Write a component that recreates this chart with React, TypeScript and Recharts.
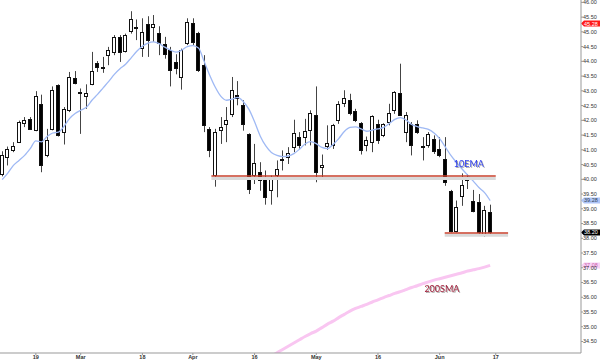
import { ComposedChart, Bar, Line, XAxis, YAxis, ReferenceLine, ReferenceDot } from 'recharts';

// daily candles, Feb 8 .. Jun 14 (index 0..87)
const opens = [
  40.19, 40.74, 41.0, 41.26, 41.92, 42.05, 41.66, 42.56, 40.84, 41.71,
  43.19, 41.6, 42.36, 43.43, 42.95, 42.84, 43.24, 43.93, 43.76, 44.21,
  44.32, 44.83, 44.35, 45.03, 45.17, 44.44, 45.25, 45.15, 44.97, 44.6,
  44.38, 43.97, 43.47, 44.63, 45.31, 44.95, 43.87, 41.69, 40.13, 41.68,
  41.88, 42.2, 42.87, 42.53, 41.54, 40.13, 40.24, 40.07, 39.64, 40.13,
  40.64, 40.77, 41.11, 41.45, 41.45, 41.66, 42.17, 40.41, 41.14, 41.15,
  42.0, 42.58, 42.7, 42.31, 41.9, 41.15, 41.26, 41.88, 41.49, 41.94,
  42.34, 42.94, 41.6, 41.88, 41.86, 41.12, 41.18, 41.35, 41.03, 40.69,
  39.59, 38.23, 39.45, 39.96, 39.28, 39.22, 38.14, 38.88,
];
const highs = [
  40.95, 41.11, 41.26, 41.99, 42.11, 42.11, 42.99, 42.87, 41.71, 43.15,
  43.22, 42.45, 43.64, 43.67, 43.08, 43.22, 44.32, 44.01, 44.15, 44.49,
  44.89, 44.89, 44.94, 45.7, 45.42, 45.46, 45.53, 45.57, 45.19, 44.83,
  44.49, 44.24, 44.43, 45.46, 45.46, 45.0, 44.21, 41.77, 41.71, 42.11,
  42.45, 43.47, 43.33, 42.68, 41.56, 41.2, 40.58, 40.3, 40.13, 40.64,
  40.98, 41.09, 42.02, 41.6, 42.05, 42.34, 43.15, 40.84, 41.83, 41.88,
  42.65, 43.02, 42.9, 42.39, 41.94, 41.45, 42.17, 42.02, 41.9, 42.56,
  42.99, 43.92, 42.28, 41.94, 42.0, 41.43, 41.6, 41.49, 41.43, 41.43,
  39.64, 39.28, 40.2, 40.18, 39.64, 39.5, 39.1, 39.14,
];
const lows = [
  40.1, 40.47, 40.92, 41.23, 41.77, 41.68, 41.63, 40.24, 40.75, 41.66,
  41.45, 41.18, 42.28, 43.22, 41.54, 42.39, 43.19, 43.64, 43.61, 43.87,
  44.21, 43.98, 44.3, 44.94, 44.72, 44.15, 44.15, 44.66, 44.21, 44.09,
  43.15, 43.56, 43.04, 44.55, 44.55, 43.64, 41.6, 40.75, 39.75, 41.2,
  41.26, 42.11, 42.51, 41.65, 39.5, 39.84, 39.61, 39.14, 39.14, 39.39,
  40.3, 40.52, 40.92, 41.03, 41.15, 41.15, 39.9, 40.05, 41.0, 41.03,
  41.88, 42.45, 42.17, 41.94, 40.84, 40.95, 40.92, 41.2, 41.43, 41.83,
  42.22, 42.15, 41.26, 40.81, 41.54, 40.64, 41.07, 40.86, 40.75, 39.78,
  38.2, 38.2, 39.1, 39.67, 38.88, 38.08, 38.05, 38.08,
];
const closes = [
  40.81, 41.04, 41.12, 41.96, 42.02, 41.71, 42.81, 40.5, 41.32, 43.02,
  41.49, 42.39, 43.47, 43.27, 42.92, 42.93, 43.66, 43.81, 43.8, 44.4,
  44.83, 44.32, 44.89, 45.42, 45.12, 45.0, 44.74, 45.25, 44.63, 44.26,
  43.72, 43.79, 44.38, 45.34, 44.64, 43.72, 41.83, 40.98, 41.6, 41.77,
  42.0, 43.04, 42.76, 41.88, 39.67, 40.54, 39.96, 39.39, 40.01, 40.35,
  40.68, 40.88, 41.57, 41.18, 41.63, 42.24, 40.24, 40.5, 41.24, 41.83,
  42.56, 42.77, 42.24, 42.0, 41.0, 41.32, 42.13, 41.32, 41.86, 42.24,
  42.96, 42.17, 42.19, 41.15, 41.6, 41.1, 41.52, 40.95, 40.81, 39.9,
  38.23, 39.07, 39.82, 40.0, 38.91, 38.2, 38.96, 38.2,
];
const ema10 = [
  39.99, 40.21, 40.47, 40.64, 40.81, 41.04, 41.3, 41.27, 41.45, 41.57,
  41.6, 41.79, 42.06, 42.23, 42.34, 42.44, 42.68, 42.88, 43.1, 43.32,
  43.56, 43.75, 43.9, 44.12, 44.34, 44.51, 44.62, 44.66, 44.6, 44.48,
  44.38, 44.31, 44.38, 44.5, 44.53, 44.45, 44.0, 43.53, 43.12, 42.81,
  42.68, 42.72, 42.78, 42.63, 42.37, 41.95, 41.47, 41.13, 40.91, 40.81,
  40.77, 40.79, 40.87, 41.02, 41.2, 41.28, 41.21, 41.08, 41.04, 41.18,
  41.38, 41.62, 41.76, 41.78, 41.71, 41.63, 41.67, 41.71, 41.76, 41.89,
  42.03, 42.09, 42.01, 41.86, 41.79, 41.74, 41.69, 41.57, 41.38, 41.1,
  40.81, 40.57, 40.35, 40.14, 39.94, 39.72, 39.55, 39.28,
];
const sma200 = [
  null, null, null, null, null, null, null, null, null, null,
  null, null, null, null, null, null, null, null, null, null,
  null, null, null, null, null, null, null, null, null, null,
  null, null, null, null, null, null, null, null, null, null,
  null, null, null, null, null, null, null, 33.88, 34.0, 34.12,
  34.23, 34.34, 34.45, 34.56, 34.67, 34.77, 34.85, 34.97, 35.09, 35.19,
  35.31, 35.42, 35.53, 35.62, 35.69, 35.76, 35.84, 35.91, 35.99, 36.06,
  36.13, 36.19, 36.26, 36.33, 36.39, 36.46, 36.52, 36.58, 36.63, 36.68,
  36.73, 36.78, 36.83, 36.89, 36.93, 36.97, 37.02, 37.08,
];

const tickIdx = [6, 14, 25, 34, 45, 56, 67, 78, 88];
const tickLabels = ['19', 'Mar', '18', 'Apr', '16', 'May', '16', 'Jun', '17'];
const yTicks = [34.5, 35, 35.5, 36, 36.5, 37, 37.5, 38, 38.5, 39, 39.5, 40, 40.5, 41, 41.5, 42, 42.5, 43, 43.5, 44, 44.5, 45, 45.5, 46];

// hand-drawn support lines (price, from bar, to bar)
const supports = [
  { price: 40.11, from: 37.3, to: 88 },
  { price: 38.18, from: 78.9, to: 90.2 },
];

const data = closes.map((c, i) => ({
  i,
  open: opens[i],
  high: highs[i],
  low: lows[i],
  close: c,
  ema: ema10[i],
  sma: sma200[i],
}));

const FONT = '"Liberation Sans", Arial, sans-serif';

function Candle(props: any) {
  const { x, y, width, height, payload } = props;
  if (!payload) return null;
  const { open, close, high, low } = payload;
  const top = Math.min(y, y + height);
  const bot = Math.max(y, y + height);
  const span = high - low || 1;
  const py = (v: number) => bot - ((v - low) / span) * (bot - top);
  const cx = Math.round(x + width / 2) + 0.5;
  const up = close >= open;
  const bTop = Math.round(py(Math.max(open, close))) + 0.5;
  let bBot = Math.round(py(Math.min(open, close))) + 0.5;
  if (bBot - bTop < 1) bBot = bTop + 1;
  return (
    <g>
      <line x1={cx} x2={cx} y1={top} y2={bot} stroke="#444" strokeWidth={1} />
      <rect x={cx - 2} y={bTop} width={3} height={bBot - bTop} fill={up ? '#fff' : '#000'} stroke="#111" strokeWidth={1} />
    </g>
  );
}

const tag = (bg: string, fg: string, text: string) => (p: any) => {
  const vb = p.viewBox;
  const right = Math.max(vb.x, vb.x + vb.width);
  const cy = vb.y;
  return (
    <g>
      <polygon
        points={`${right},${cy} ${right + 3},${cy - 3} ${right + 19},${cy - 3} ${right + 19},${cy + 3} ${right + 3},${cy + 3}`}
        fill={bg}
      />
      <text x={right + 3} y={cy} dy="0.35em" fontSize={5.5} fontFamily={FONT} fill={fg}>{text}</text>
    </g>
  );
};

const note = (text: string, color: string) => (p: any) => {
  const vb = p.viewBox;
  return (
    <text
      x={vb.x + vb.width / 2}
      y={vb.y + vb.height / 2}
      dy="0.35em"
      textAnchor="middle"
      fontSize={9}
      fontFamily="Lato, sans-serif"
      fill={color}
      style={{ filter: 'drop-shadow(1px 1px 0.6px rgba(0,0,0,0.35))' }}
    >
      {text}
    </text>
  );
};

export default function App() {
  return (
    <div style={{ position: 'absolute', left: 0, top: 0, width: 600, height: 361, background: '#fff' }}>
      <ComposedChart width={600} height={361} data={data} margin={{ top: 0, right: 0, left: 0, bottom: 0 }}>
        <XAxis
          dataKey="i"
          type="number"
          domain={[-0.39, 103.2]}
          allowDataOverflow
          ticks={tickIdx}
          interval={0}
          tickFormatter={(v) => tickLabels[tickIdx.indexOf(v)] ?? ''}
          height={8}
          tickSize={2}
          tickMargin={0}
          stroke="#999"
          tick={{ fontSize: 5.5, fontFamily: FONT, fontWeight: 'bold', fill: '#333' }}
        />
        <YAxis
          orientation="right"
          type="number"
          domain={[34.11, 46.08]}
          allowDataOverflow
          ticks={yTicks}
          interval={0}
          width={19}
          tickSize={2}
          tickMargin={0}
          stroke="#999"
          tickFormatter={(v) => Number(v).toFixed(2)}
          tick={{ fontSize: 5.5, fontFamily: FONT, fill: '#333' }}
        />
        <Line type="monotone" dataKey="sma" stroke="#f9c6f1" strokeWidth={3} dot={false} activeDot={false} isAnimationActive={false} />
        <Line type="monotone" dataKey="ema" stroke="#9fb9f4" strokeWidth={1.3} dot={false} activeDot={false} isAnimationActive={false} />
        {supports.map((s, k) => (
          <ReferenceLine
            key={'sh' + k}
            segment={[{ x: s.from, y: s.price - 0.08 }, { x: s.to, y: s.price - 0.08 }]}
            stroke="#d9d9d9"
            strokeWidth={3}
          />
        ))}
        {supports.map((s, k) => (
          <ReferenceLine
            key={'sp' + k}
            segment={[{ x: s.from, y: s.price }, { x: s.to, y: s.price }]}
            stroke="#c9402c"
            strokeWidth={1.5}
          />
        ))}
        <Bar
          dataKey={(d: any) => [d.low, d.high]}
          barSize={5}
          shape={<Candle />}
          activeBar={false}
          isAnimationActive={false}
        />
        <ReferenceDot x={83.2} y={40.53} r={0} stroke="none" fill="none" label={note('10EMA', '#2f3ff0')} />
        <ReferenceDot x={78.4} y={36.27} r={0} stroke="none" fill="none" label={note('200SMA', '#a3203c')} />
        <ReferenceLine y={45.28} stroke="none" label={tag('#ff1a1a', '#fff', '45.28')} />
        <ReferenceLine y={39.28} stroke="none" label={tag('#aec4f7', '#345', '39.28')} />
        <ReferenceLine y={38.2} stroke="none" label={tag('#000', '#fff', '38.20')} />
        <ReferenceLine y={37.08} stroke="none" label={tag('#f8d2f6', '#c6a', '37.08')} />
      </ComposedChart>
    </div>
  );
}
